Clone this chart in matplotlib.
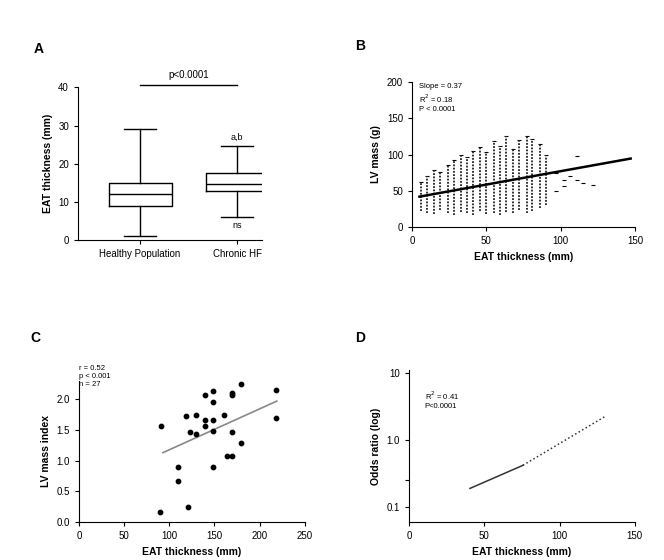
import matplotlib.pyplot as plt
import numpy as np

plt.rcParams['font.family'] = ['Liberation Sans', 'DejaVu Sans']

# Panel A: box summary values (mm)
groups = ['Healthy Population', 'Chronic HF']
box_lo = [1, 6]
box_q1 = [9, 13]
box_med = [12, 14.7]
box_q3 = [15, 17.6]
box_hi = [29, 24.7]

# Panel B: per-day strips of individual measurements
strip_x = [6, 10, 15, 19, 24, 28, 33, 37, 41, 46, 50, 55, 59, 63, 68, 72, 77, 81, 86, 90]
strip_top = [62, 70, 78, 76, 85, 92, 100, 96, 105, 110, 104, 118, 112, 125, 108, 120, 126, 122, 115, 100]
strip_bot = [22, 20, 18, 24, 20, 17, 21, 19, 16, 22, 18, 20, 17, 21, 19, 24, 20, 22, 26, 30]
extra_x = [97, 102, 106, 111, 115, 102, 111, 122, 97]
extra_y = [74.5, 65, 70, 65, 61, 56, 98, 58, 49]
fit_b_x = [5, 147]
fit_b_y = [41.9, 94.4]

# Panel C: patient scatter
c_x = [91, 139, 148, 148, 169, 169, 179, 218, 218, 130, 119, 139, 139, 148, 160,
       123, 130, 148, 169, 179, 164, 169, 148, 110, 110, 121, 90]
c_y = [1.56, 2.07, 1.95, 2.13, 2.11, 2.07, 2.25, 2.15, 1.69, 1.75, 1.72, 1.67, 1.56,
       1.67, 1.75, 1.46, 1.43, 1.48, 1.46, 1.28, 1.08, 1.07, 0.89, 0.89, 0.66, 0.25, 0.16]
fit_c_x = [93, 219]
fit_c_y = [1.13, 1.97]

# Panel D: fitted curve
d_x_solid = [40.5, 75.7]
d_y_solid = [0.19, 0.42]
d_x_dot = [75.7, 131]
d_y_dot = [0.42, 2.3]


def clean(ax):
    ax.spines['top'].set_visible(False)
    ax.spines['right'].set_visible(False)
    ax.tick_params(labelsize=7, width=0.8, length=3)


fig = plt.figure(figsize=(6.64, 5.6), dpi=100)

# A
axA = fig.add_axes([0.1175, 0.571, 0.277, 0.273])
stats = []
for i in range(len(groups)):
    stats.append({'whislo': box_lo[i], 'q1': box_q1[i], 'med': box_med[i],
                  'q3': box_q3[i], 'whishi': box_hi[i], 'label': groups[i]})
axA.bxp(stats, positions=[0, 1], widths=0.65, showfliers=False,
        boxprops=dict(color='black', linewidth=1),
        medianprops=dict(color='black', linewidth=1),
        whiskerprops=dict(color='black', linewidth=1),
        capprops=dict(color='black', linewidth=1))
axA.set_xlim(-0.64, 1.257)
axA.set_ylim(0, 40)
axA.set_yticks([0, 10, 20, 30, 40])
axA.set_ylabel('EAT thickness (mm)', fontsize=7.5, fontweight='bold')
axA.plot([0, 1], [40.5, 40.5], color='black', lw=1, clip_on=False)
axA.text(0.5, 42, 'p<0.0001', ha='center', va='bottom', fontsize=7)
axA.text(1, box_hi[1] + 1, 'a,b', ha='center', va='bottom', fontsize=6.5)
axA.text(1, box_lo[1] - 1, 'ns', ha='center', va='top', fontsize=6.5)
clean(axA)
axA.tick_params(axis='x', labelsize=7)
fig.text(0.05, 0.905, 'A', fontsize=10, fontweight='bold')

# B
axB = fig.add_axes([0.6205, 0.5946, 0.336, 0.259])
axB.vlines(strip_x, strip_bot, strip_top, colors='#222222',
           linestyles=(0, (1, 0.8)), linewidth=1.3)
axB.scatter(strip_x, strip_top, marker='_', s=12, color='black', linewidths=0.8)
axB.scatter(extra_x, extra_y, marker='_', s=12, color='black', linewidths=0.8)
axB.plot(fit_b_x, fit_b_y, color='black', lw=1.8)
axB.set_xlim(0, 150)
axB.set_ylim(0, 200)
axB.set_xticks([0, 50, 100, 150])
axB.set_yticks([0, 50, 100, 150, 200])
axB.set_xlabel('EAT thickness (mm)', fontsize=7.5, fontweight='bold')
axB.set_ylabel('LV mass (g)', fontsize=7.5, fontweight='bold')
axB.text(0.03, 0.99, 'Slope = 0.37\nR$^2$ = 0.18\nP < 0.0001', transform=axB.transAxes,
         va='top', ha='left', fontsize=5.5, linespacing=1.2)
clean(axB)
fig.text(0.535, 0.91, 'B', fontsize=10, fontweight='bold')

# C
axC = fig.add_axes([0.119, 0.0679, 0.340, 0.252])
axC.scatter(c_x, c_y, s=10, color='black', zorder=3)
axC.plot(fit_c_x, fit_c_y, color='#888888', lw=1.2)
axC.set_xlim(0, 250)
axC.set_ylim(0, 2.3)
axC.set_xticks([0, 50, 100, 150, 200, 250])
axC.set_yticks([0, 0.5, 1.0, 1.5, 2.0])
axC.set_xlabel('EAT thickness (mm)', fontsize=7.5, fontweight='bold')
axC.set_ylabel('LV mass index', fontsize=7.5, fontweight='bold')
axC.text(0.0, 1.11, 'r = 0.52\np < 0.001\nn = 27', transform=axC.transAxes,
         va='top', ha='left', fontsize=5.5, linespacing=1.2)
clean(axC)
fig.text(0.045, 0.39, 'C', fontsize=10, fontweight='bold')

# D
axD = fig.add_axes([0.616, 0.0679, 0.340, 0.271])
axD.plot(d_x_solid, d_y_solid, color='#333333', lw=1.1)
axD.plot(d_x_dot, d_y_dot, color='#333333', lw=1.1, ls=':')
axD.set_yscale('log')
axD.minorticks_off()
axD.set_xlim(0, 150)
axD.set_ylim(0.06, 11)
axD.set_xticks([0, 50, 100, 150])
axD.set_yticks([0.1, 0.25, 1, 10])
axD.set_yticklabels(['0.1', '', '1.0', '10'])
axD.set_xlabel('EAT thickness (mm)', fontsize=7.5, fontweight='bold')
axD.set_ylabel('Odds ratio (log)', fontsize=7.5, fontweight='bold')
axD.text(0.07, 0.87, 'R$^2$ = 0.41\nP<0.0001', transform=axD.transAxes,
         va='top', ha='left', fontsize=5.5, linespacing=1.2)
clean(axD)
fig.text(0.535, 0.39, 'D', fontsize=10, fontweight='bold')

fig.savefig('out.png', dpi=100)
